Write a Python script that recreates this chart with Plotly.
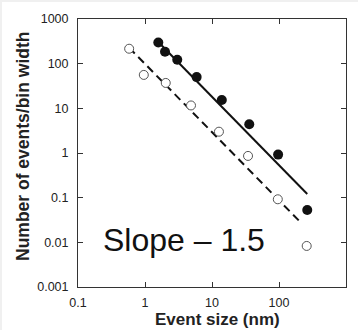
import plotly.graph_objects as go

# Data
filled_x = [1.58, 1.99, 3.03, 5.9, 14.0, 36, 97, 264]
filled_y = [299, 185, 122, 50, 15.3, 4.4, 0.92, 0.053]
open_x = [0.58, 0.96, 2.04, 4.86, 12.7, 34.5, 96, 259]
open_y = [216, 56, 37, 11.6, 3.0, 0.86, 0.092, 0.0083]
solid_fit_x = [1.62, 264]
solid_fit_y = [294, 0.121]
dashed_fit_x = [0.58, 218]
dashed_fit_y = [227, 0.0265]

x_ticks = [0.1, 1, 10, 100, 1000]
x_ticktext = ["0.1", "1", "10", "100", "1000"]
y_ticks = [0.001, 0.01, 0.1, 1, 10, 100, 1000]
y_ticktext = ["0.001", "0.01", "0.1", "1", "10", "100", "1000"]

x_title = "Event size (nm)"
y_title = "Number of events/bin width"
slope_label = "Slope \u2013 1.5"

FONT = "Liberation Sans, Arial, sans-serif"

fig = go.Figure()
fig.add_trace(go.Scatter(x=dashed_fit_x, y=dashed_fit_y, mode="lines",
                         line=dict(color="#111111", width=2, dash="8px,5px"),
                         showlegend=False, hoverinfo="skip"))
fig.add_trace(go.Scatter(x=solid_fit_x, y=solid_fit_y, mode="lines",
                         line=dict(color="#111111", width=2),
                         showlegend=False, hoverinfo="skip"))
fig.add_trace(go.Scatter(x=open_x, y=open_y, mode="markers",
                         marker=dict(symbol="circle", size=9, color="white",
                                     line=dict(color="#555555", width=1)),
                         showlegend=False))
fig.add_trace(go.Scatter(x=filled_x, y=filled_y, mode="markers",
                         marker=dict(symbol="circle", size=10, color="#111111",
                                     line=dict(width=0)),
                         showlegend=False))

axis_common = dict(
    type="log", showgrid=False, zeroline=False, showline=True,
    linecolor="#333333", linewidth=1, mirror="ticks",
    ticks="inside", ticklen=5, tickcolor="#333333", tickwidth=1,
    tickfont=dict(family=FONT, size=12.5, color="#222222"),
)

fig.update_xaxes(range=[-1, 3], tickvals=x_ticks, ticktext=x_ticktext,
                 ticklabelstandoff=4, **axis_common)
fig.update_yaxes(range=[-3, 3], tickvals=y_ticks, ticktext=y_ticktext,
                 ticklabelstandoff=6, **axis_common)

W, H = 358, 330
L, R, T, B = 78, 12, 19, 43
pw, ph = W - L - R, H - T - B


def px(xp):
    return (xp - L) / pw


def py(yp):
    return (H - B - yp) / ph


fig.add_shape(type="rect", xref="paper", yref="paper",
              x0=px(2), x1=px(W + 5), y0=py(H + 5), y1=py(2),
              fillcolor="white", line=dict(width=0), layer="below")

fig.add_annotation(text=y_title, xref="paper", yref="paper",
                   x=px(22.5), y=py(146.5), textangle=-90, showarrow=False,
                   xanchor="center", yanchor="middle",
                   font=dict(family=FONT, size=17.5, color="#222222", weight="bold"))
fig.add_annotation(text=x_title, xref="paper", yref="paper",
                   x=px(217), y=py(319), showarrow=False,
                   xanchor="center", yanchor="middle",
                   font=dict(family=FONT, size=17, color="#222222", weight="bold"))
fig.add_annotation(text=slope_label, xref="paper", yref="paper",
                   x=px(101), y=py(240), showarrow=False,
                   xanchor="left", yanchor="middle",
                   font=dict(family=FONT, size=32, color="#111111"))

fig.update_layout(
    width=W, height=H,
    margin=dict(l=L, r=R, t=T, b=B, pad=0),
    paper_bgcolor="#f0f0f0", plot_bgcolor="white",
    showlegend=False,
)

fig.write_html("out.html")
